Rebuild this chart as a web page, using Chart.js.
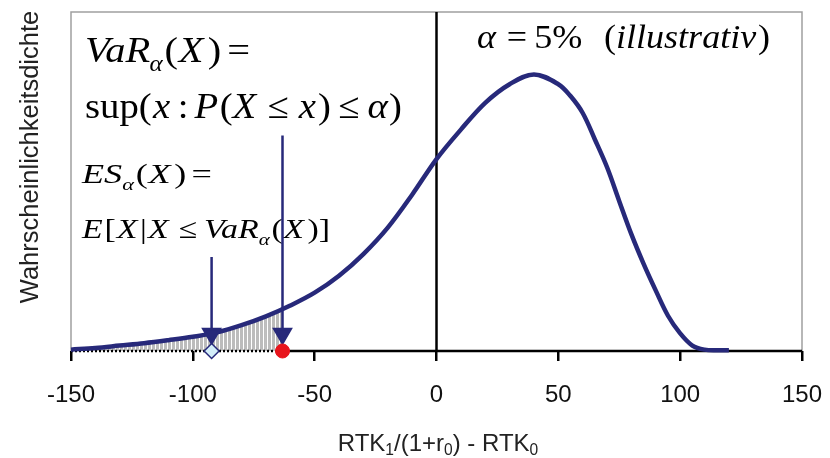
<!DOCTYPE html>
<html>
<head>
<meta charset="utf-8">
<script src="https://cdn.jsdelivr.net/npm/chart.js@4"></script>
<style>
  body { margin: 0; background: #fff; }
  #wrap { width: 830px; height: 458px; }
</style>
</head>
<body>
<div id="wrap"><canvas id="myChart" width="830" height="458"></canvas></div>
<script>
// density curve
let xs = [-150,-140,-130,-120,-110,-100,-90,-80,-70,-60,-50,-40,-30,-20,-10,0,10,20,30,40,50,55,60,65,70,75,80,85,90,95,100,105,110,115,120];
let dens = [0.004,0.009,0.016,0.023,0.032,0.042,0.055,0.076,0.102,0.134,0.172,0.222,0.286,0.364,0.461,0.566,0.653,0.732,0.787,0.816,0.787,0.752,0.702,0.624,0.542,0.442,0.344,0.257,0.178,0.104,0.052,0.016,0.004,0.002,0.002];

let xTicks = [-150,-100,-50,0,50,100,150];
let varX = -63.2;    // VaR marker
let esX = -92.3;     // ES marker
let varArrow = [0.636, 0.051];   // top, head
let esArrow = [0.277, 0.051];

const NAVY = '#27297a';
const SERIF = '"Liberation Serif", "Times New Roman", serif';
const SANS = '"Liberation Sans", Arial, sans-serif';

// hatch pattern for the tail
let pc = document.createElement('canvas');
pc.width = 4; pc.height = 4;
let pctx = pc.getContext('2d');
pctx.fillStyle = '#bcbcbc';
pctx.fillRect(0, 0, 3, 4);
let hatch = pctx.createPattern(pc, 'repeat');

let tailData = [];
for (let i = 0; i < xs.length; i++) {
  if (xs[i] <= varX) tailData.push({x: xs[i], y: dens[i]});
}

// parts: [text, italic, sub, gap before in em]
function drawMath(c, x0, y, size, targetW, parts) {
  let setFont = (p) => {
    c.font = (p[1] ? 'italic ' : '') + (p[2] ? size * 0.62 : size) + 'px ' + SERIF;
  };
  let w = 0;
  for (let p of parts) {
    setFont(p);
    w += (p[3] || 0) * size + c.measureText(p[0]).width;
  }
  c.save();
  c.translate(x0, y);
  c.scale(targetW / w, 1);
  let x = 0;
  for (let p of parts) {
    setFont(p);
    x += (p[3] || 0) * size;
    c.fillText(p[0], x, p[2] ? size * 0.25 : 0);
    x += c.measureText(p[0]).width;
  }
  c.restore();
}

const deco = {
  id: 'deco',
  beforeDatasetsDraw(chart) {
    let c = chart.ctx, a = chart.chartArea;
    c.save();
    c.strokeStyle = '#a0a0a0';
    c.lineWidth = 1.5;
    c.beginPath();
    c.moveTo(a.left, a.bottom); c.lineTo(a.left, a.top);
    c.lineTo(a.right, a.top); c.lineTo(a.right, a.bottom);
    c.stroke();

    c.fillStyle = '#000';
    c.textBaseline = 'alphabetic';
    c.textAlign = 'left';
    drawMath(c, 85, 62, 36, 165, [['VaR',1,0],['α',1,1,-0.02],['(',0,0,0.05],['X',1,0,0.02],[')',0,0,0.1],['=',0,0,0.15]]);
    drawMath(c, 85, 118, 36, 317, [['sup',0,0],['(',0,0],['x',1,0,0.03],[':',0,0,0.2],['P',1,0,0.15],['(',0,0,0.04],['X',1,0],['≤',0,0,0.3],['x',1,0,0.25],[')',0,0,0.05],['≤',0,0,0.2],['α',1,0,0.2],[')',0,0,0.03]]);
    drawMath(c, 82, 183, 28, 130, [['ES',1,0],['α',1,1],['(',0,0,0.05],['X',1,0,0.02],[')',0,0,0.1],['=',0,0,0.15]]);
    drawMath(c, 82, 238, 28, 248, [['E',1,0],['[',0,0,0.05],['X',1,0,0.03],['|',0,0,0.08],['X',1,0,0.03],['≤',0,0,0.3],['VaR',1,0,0.2],['α',1,1],['(',0,0,0.05],['X',1,0,0.02],[')',0,0,0.1],[']',0,0]]);
    drawMath(c, 477, 48, 33, 293, [['α',1,0],['=',0,0,0.3],['5%',0,0,0.2],['(',0,0,0.6],['illustrativ',1,0],[')',0,0,0.05]]);

    // y title
    c.save();
    c.translate(31, 157);
    c.rotate(-Math.PI / 2);
    c.textAlign = 'center';
    c.textBaseline = 'middle';
    c.fillStyle = '#222';
    c.font = '25.5px ' + SANS;
    c.fillText('Wahrscheinlichkeitsdichte', 0, 0);
    c.restore();

    // x title with subscripts
    c.fillStyle = '#222';
    let parts = [{t:'RTK'},{t:'1',sub:1},{t:'/(1+r'},{t:'0',sub:1},{t:') - RTK'},{t:'0',sub:1}];
    let size = 24, w = 0;
    for (let p of parts) {
      c.font = (p.sub ? size * 0.65 : size) + 'px ' + SANS;
      w += c.measureText(p.t).width;
    }
    let x = 438 - w / 2;
    for (let p of parts) {
      c.font = (p.sub ? size * 0.65 : size) + 'px ' + SANS;
      c.fillText(p.t, x, p.sub ? 455 : 451);
      x += c.measureText(p.t).width;
    }
    c.restore();
  }
};

let ctx = document.getElementById('myChart');

const myChart = new Chart(ctx, {
  type: 'line',
  data: {
    datasets: [{
      // VaR point
      data: [{x: varX, y: 0}],
      pointStyle: 'circle', pointRadius: 7,
      backgroundColor: '#e8141c', borderColor: '#e8141c',
      showLine: false, order: 0, clip: false
    }, {
      // ES point
      data: [{x: esX, y: 0}],
      pointStyle: 'rectRot', pointRadius: 7.5,
      backgroundColor: '#d4eef9', borderColor: NAVY, borderWidth: 1.5,
      showLine: false, order: 0, clip: false
    }, {
      data: [{x: varX, y: varArrow[0]}, {x: varX, y: varArrow[1]}],
      borderColor: NAVY, borderWidth: 2.5, backgroundColor: NAVY,
      pointStyle: 'triangle', pointRotation: 180,
      pointRadius: [0, 9.5], order: 1, clip: false
    }, {
      data: [{x: esX, y: esArrow[0]}, {x: esX, y: esArrow[1]}],
      borderColor: NAVY, borderWidth: 2.5, backgroundColor: NAVY,
      pointStyle: 'triangle', pointRotation: 180,
      pointRadius: [0, 9.5], order: 1, clip: false
    }, {
      // density
      data: xs.map((x, i) => ({x: x, y: dens[i]})),
      borderColor: NAVY, borderWidth: 4.5,
      pointRadius: 0, tension: 0.35,
      order: 2, clip: false
    }, {
      // vertical line at 0
      data: [{x: 0, y: 0}, {x: 0, y: 1}],
      borderColor: '#000', borderWidth: 2.5, pointRadius: 0, order: 3, clip: false
    }, {
      // x axis (solid part)
      data: [{x: varX, y: 0}, {x: 150, y: 0}],
      borderColor: '#000', borderWidth: 2.5, pointRadius: 0, order: 3, clip: false
    }, {
      // x axis (dotted part under tail)
      data: [{x: -150, y: 0}, {x: varX, y: 0}],
      borderColor: '#000', borderWidth: 2.5, borderDash: [2, 2],
      pointRadius: 0, order: 3, clip: false
    }, {
      // shaded tail
      data: tailData,
      borderWidth: 0, borderColor: 'rgba(0,0,0,0)',
      backgroundColor: hatch, fill: 'origin',
      pointRadius: 0, tension: 0.35, order: 4
    }, {
      // shaded tail, last strip up to VaR
      data: [{x: -70, y: 0.102}, {x: varX, y: 0.125}],
      borderWidth: 0, borderColor: 'rgba(0,0,0,0)',
      backgroundColor: hatch, fill: 'origin',
      pointRadius: 0, order: 4
    }]
  },
  options: {
    responsive: false,
    animation: false,
    events: [],
    layout: { padding: { left: 71, right: 28, top: 8, bottom: 0 } },
    plugins: { legend: { display: false }, tooltip: { enabled: false } },
    scales: {
      x: {
        type: 'linear', min: -150, max: 150,
        afterBuildTicks: (s) => { s.ticks = xTicks.map(v => ({value: v})); },
        afterFit: (s) => { s.height = 107; s.paddingLeft = 0; s.paddingRight = 0; },
        border: { display: false },
        grid: { drawOnChartArea: false, drawTicks: true, tickLength: 10, color: '#000', lineWidth: 2.5 },
        ticks: { padding: 20, color: '#111', font: { family: SANS, size: 24 } }
      },
      y: { min: 0, max: 1, display: false }
    }
  },
  plugins: [deco]
});
</script>
</body>
</html>
